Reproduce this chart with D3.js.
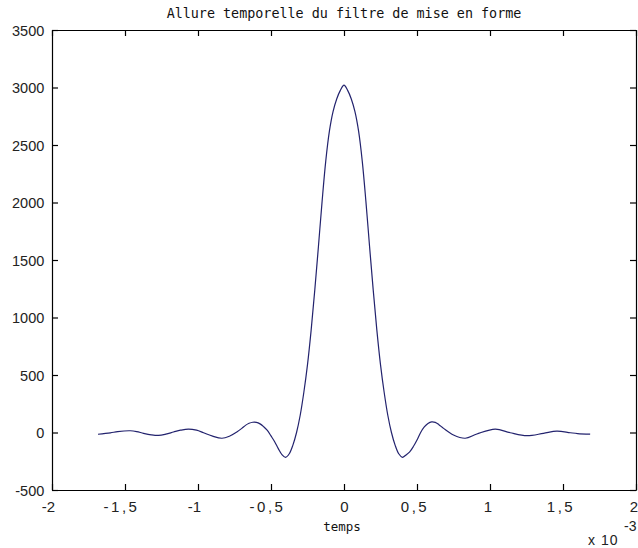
<!DOCTYPE html>
<html>
<head>
<meta charset="utf-8">
<script src="https://cdn.jsdelivr.net/npm/d3@7"></script>
<style>
  html, body { margin: 0; padding: 0; background: #fff; }
  svg { display: block; }
</style>
</head>
<body>
<svg id="chart" width="638" height="548"></svg>
<script>
// Temps en unités de 1e-3 s (axe gradué « x 10^-3 »)
const temps = [
  -1.685, -1.6, -1.55, -1.464, -1.42, -1.373, -1.32, -1.27, -1.22, -1.168,
  -1.12, -1.065, -1.01, -0.962, -0.9, -0.836, -0.785, -0.734, -0.7, -0.675,
  -0.65, -0.625, -0.6, -0.575, -0.55, -0.525, -0.5, -0.475, -0.45, -0.425,
  -0.4, -0.375, -0.35, -0.325, -0.3, -0.275, -0.25, -0.225, -0.2, -0.175,
  -0.15, -0.125, -0.1, -0.075, -0.05, -0.025, 0,
  0.025, 0.05, 0.075, 0.1, 0.125, 0.15, 0.175, 0.2, 0.225, 0.25,
  0.275, 0.3, 0.325, 0.35, 0.375, 0.4, 0.425, 0.45, 0.475, 0.5,
  0.525, 0.55, 0.575, 0.6, 0.625, 0.65, 0.682, 0.75, 0.83, 0.91,
  1.036, 1.138, 1.253, 1.366, 1.458, 1.55, 1.6, 1.686
];
// Amplitude du filtre de mise en forme
const amplitude = [
  -15, -3, 8, 15, 8, -7, -20, -25, -14, 4,
  20, 30, 20, -2, -32, -50, -32, 5, 36, 62,
  80, 89, 88, 75, 50, 18, -30, -80, -140, -192,
  -216, -185, -110, 0, 150, 350, 590, 890, 1240, 1620,
  2010, 2360, 2620, 2790, 2900, 2975, 3020,
  2975, 2900, 2790, 2620, 2360, 2010, 1620, 1240, 890, 590,
  350, 150, 0, -110, -185, -216, -195, -168, -122, -65,
  0, 48, 78, 92, 88, 68, 36, -22, -50, -13,
  30, -2, -28, -7, 12, -2, -9, -14
];
const xTicks = [-2, -1.5, -1, -0.5, 0, 0.5, 1, 1.5, 2];
const xTickLabels = ["-2", "-1,5", "-1", "-0,5", "0", "0,5", "1", "1,5", "2"];
const yTicks = [-500, 0, 500, 1000, 1500, 2000, 2500, 3000, 3500];
const yTickLabels = ["-500", "0", "500", "1000", "1500", "2000", "2500", "3000", "3500"];

const W = 638, H = 548;
const m = { left: 52, right: 2, top: 30, bottom: 58 };
const svg = d3.select("#chart");

const x = d3.scaleLinear().domain([-2, 2]).range([m.left, W - m.right]);
const y = d3.scaleLinear().domain([-500, 3500]).range([H - m.bottom, m.top]);

const tickFont = "'Liberation Sans', Arial, sans-serif";
const monoFont = "'DejaVu Sans Mono', monospace";

// Axe du bas (graduations vers l'intérieur)
const gx = svg.append("g")
  .attr("transform", `translate(0,${H - m.bottom})`)
  .call(d3.axisBottom(x).tickValues(xTicks)
    .tickFormat((d, i) => xTickLabels[i]).tickSizeInner(-6).tickSizeOuter(0));
gx.selectAll("text")
  .attr("y", 21.5).attr("dy", null)
  .attr("font-family", tickFont).attr("font-size", 15)
  .attr("letter-spacing", (d, i) => (xTickLabels[i].includes(",") ? 2.5 : null))
  .attr("dx", d => (d < 0 ? -4 : d > 0 ? -2.5 : 0))
  .attr("fill", "#222");

// Axe du haut
svg.append("g")
  .attr("transform", `translate(0,${m.top})`)
  .call(d3.axisTop(x).tickValues(xTicks).tickFormat("").tickSizeInner(-6).tickSizeOuter(0));

// Axe de gauche
const gy = svg.append("g")
  .attr("transform", `translate(${m.left},0)`)
  .call(d3.axisLeft(y).tickValues(yTicks)
    .tickFormat((d, i) => yTickLabels[i]).tickSizeInner(-6).tickSizeOuter(0));
gy.selectAll("text")
  .attr("x", -7.7).attr("dy", "0.36em")
  .attr("font-family", tickFont).attr("font-size", 14.5)
  .attr("fill", "#222");

// Axe de droite
svg.append("g")
  .attr("transform", `translate(${W - m.right},0)`)
  .call(d3.axisRight(y).tickValues(yTicks).tickFormat("").tickSizeInner(-6).tickSizeOuter(0));

svg.selectAll(".domain").attr("stroke", "#000").attr("stroke-width", 1.2);
svg.selectAll(".tick line").attr("stroke", "#000").attr("stroke-width", 1.2);

// Courbe
const pts = temps.map((t, i) => [t, amplitude[i]]);
const line = d3.line()
  .x(d => x(d[0]))
  .y(d => y(d[1]))
  .curve(d3.curveCatmullRom.alpha(0.5));
svg.append("path")
  .datum(pts)
  .attr("fill", "none")
  .attr("stroke", "#23236e")
  .attr("stroke-width", 1.2)
  .attr("d", line);

// Titre
svg.append("text")
  .attr("x", (m.left + W - m.right) / 2)
  .attr("y", 18)
  .attr("text-anchor", "middle")
  .attr("font-family", monoFont)
  .attr("font-size", 13.4)
  .attr("fill", "#111")
  .text("Allure temporelle du filtre de mise en forme");

// Étiquette de l'axe des x
svg.append("text")
  .attr("x", 342)
  .attr("y", 531)
  .attr("text-anchor", "middle")
  .attr("font-family", monoFont)
  .attr("font-size", 12.5)
  .attr("fill", "#111")
  .text("temps");

// Facteur d'échelle x 10^-3
svg.append("text")
  .attr("x", 588)
  .attr("y", 545)
  .attr("font-family", tickFont)
  .attr("font-size", 14)
  .attr("fill", "#222")
  .attr("letter-spacing", 1)
  .text("x 10");
svg.append("text")
  .attr("x", 624)
  .attr("y", 531)
  .attr("font-family", tickFont)
  .attr("font-size", 14)
  .attr("fill", "#222")
  .text("-3");
</script>
</body>
</html>
